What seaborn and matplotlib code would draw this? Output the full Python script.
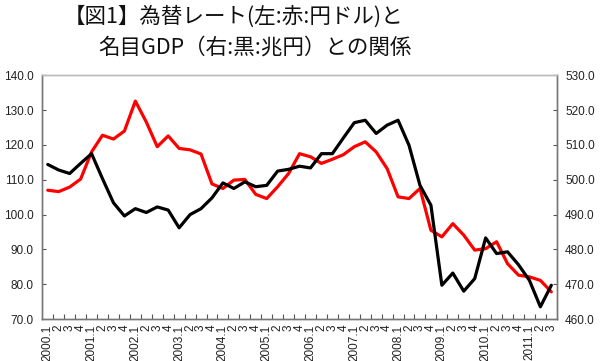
import matplotlib
matplotlib.use("Agg")
import matplotlib.pyplot as plt
import seaborn as sns
import pandas as pd
import numpy as np

# ---- data ----
years = list(range(2000, 2012))
quarter_labels = []
for y in years:
    for q in range(1, 5):
        quarter_labels.append(f"{y}.1" if q == 1 else str(q))
quarter_labels = quarter_labels[:47]  # 2000.1 .. 2011.3

yen_usd = [107.0, 106.6, 107.9, 110.2, 118.0, 122.8, 121.7, 124.0,
           132.6, 126.6, 119.5, 122.6, 119.0, 118.6, 117.4, 108.8,
           107.5, 109.9, 110.1, 105.8, 104.6, 108.0, 111.8, 117.5,
           116.6, 114.7, 115.9, 117.2, 119.5, 120.9, 118.0, 113.2,
           105.1, 104.6, 107.5, 95.5, 93.6, 97.4, 94.1, 89.8,
           90.2, 92.2, 85.9, 82.6, 82.1, 81.1, 77.8]

nominal_gdp = [504.4, 502.8, 501.8, 504.7, 507.5, 500.3, 493.4, 489.6,
               491.7, 490.6, 492.2, 491.3, 486.2, 490.0, 491.7, 494.8,
               499.1, 497.5, 499.4, 498.0, 498.4, 502.5, 503.0, 503.9,
               503.4, 507.5, 507.5, 512.0, 516.4, 517.1, 513.3, 515.7,
               517.1, 509.9, 498.4, 492.7, 469.7, 473.2, 468.0, 471.6,
               483.3, 478.8, 479.3, 475.6, 471.1, 463.5, 469.7]

left_ticks = [70, 80, 90, 100, 110, 120, 130, 140]
right_ticks = [460, 470, 480, 490, 500, 510, 520, 530]

df = pd.DataFrame({"idx": np.arange(len(quarter_labels)),
                   "rate": yen_usd, "gdp": nominal_gdp})

sns.set_theme(style="white")
plt.rcParams["font.family"] = ["Liberation Sans", "DejaVu Sans"]

fig = plt.figure(figsize=(6.0, 3.61), dpi=100)
ax = fig.add_axes([0.0705, 0.1163, 0.8575, 0.675])
ax2 = ax.twinx()

sns.lineplot(data=df, x="idx", y="rate", ax=ax, color="#ff0000", linewidth=2.3)
sns.lineplot(data=df, x="idx", y="gdp", ax=ax2, color="#000000", linewidth=2.3)

n = len(quarter_labels)
ax.set_xlim(-0.5, n - 0.5)
ax.set_ylim(70, 140)
ax2.set_ylim(460, 530)

ax.set_yticks(left_ticks)
ax.set_yticklabels([f"{v:.1f}" for v in left_ticks], fontsize=8.5, color="#222222")
ax2.set_yticks(right_ticks)
ax2.set_yticklabels([f"{v:.1f}" for v in right_ticks], fontsize=8.5, color="#222222")

ax.set_xticks(np.arange(n))
ax.set_xticklabels(quarter_labels, rotation=90, fontsize=8.5, color="#222222")
ax.set_xticks(np.arange(n - 1) + 0.5, minor=True)
ax.tick_params(axis="x", which="major", length=0, pad=4)
ax.tick_params(axis="x", which="minor", length=3.5, direction="in", color="#555555", width=0.8, bottom=True)
ax.tick_params(axis="y", length=3, direction="in", color="#555555", width=0.8, pad=6, left=True)
ax2.tick_params(axis="y", length=3, direction="in", color="#555555", width=0.8, pad=6, right=True)

for a in (ax, ax2):
    a.set_xlabel("")
    a.set_ylabel("")
    a.grid(False)
    for s in ("left", "right", "bottom"):
        a.spines[s].set_color("#777777")
        a.spines[s].set_linewidth(1.0)
    a.spines["top"].set_color("#bbbbbb")
    a.spines["top"].set_linewidth(1.0)

title_font = ["Noto Sans CJK JP", "DejaVu Sans"]
fig.text(64 / 600, 1 - 17 / 361, "【図1】為替レート(左:赤:円ドル)と",
         family=title_font, fontsize=15.5, ha="left", va="center", color="#111111")
fig.text(98 / 600, 1 - 48 / 361, "名目GDP（右:黒:兆円）との関係",
         family=title_font, fontsize=15.5, ha="left", va="center", color="#111111")

fig.savefig("out.png", dpi=100, facecolor="white")
